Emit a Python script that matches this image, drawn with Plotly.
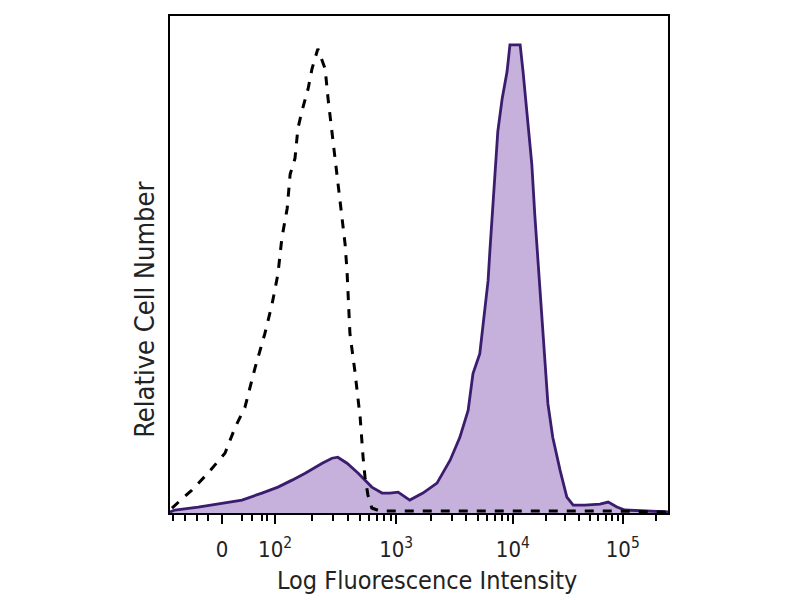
import plotly.graph_objects as go

# 채널 (0-1024, 로지클 표시 축) 과 세포 수
iso_channel = [4, 16, 45, 78, 113, 134, 154, 175, 195, 210, 222, 230, 241, 247, 257, 263,
               271, 284, 292, 304, 319, 325, 333, 343, 350, 360, 364, 366, 370, 380, 391,
               397, 401, 407, 415, 432, 500, 700, 900, 1024]
iso_count = [5, 10, 23, 40, 60, 86, 106, 146, 180, 210, 240, 276, 306, 340, 356, 386,
             403, 426, 446, 466, 446, 416, 383, 343, 310, 270, 243, 223, 180, 143, 96,
             56, 36, 18, 5, 2, 2, 2, 2, 1]

stain_channel = [0, 10, 58, 107, 148, 189, 222, 251, 278, 313, 333, 345, 364, 387, 415,
                 436, 452, 469, 493, 520, 549, 576, 596, 613, 623, 637, 644, 654, 658,
                 662, 668, 674, 683, 693, 699, 720, 726, 734, 744, 750, 757, 765, 771,
                 777, 787, 802, 816, 829, 853, 884, 901, 919, 935, 977, 1024]
stain_count = [1, 3, 6, 10, 13, 20, 26, 33, 40, 50, 55, 56, 50, 40, 26,
               20, 20, 21, 13, 20, 30, 53, 76, 103, 140, 160, 193, 233, 265,
               296, 343, 383, 416, 443, 470, 470, 443, 400, 350, 300, 250, 193, 150,
               110, 76, 43, 16, 8, 8, 9, 11, 6, 3, 2, 1]

# 축 눈금
tick_pos = [107, 216, 465, 705, 931]
tick_text = ["0", "10<sup>2</sup>", "10<sup>3</sup>", "10<sup>4</sup>", "10<sup>5</sup>"]
minor_pos = [6, 31, 56, 78, 148, 169, 189, 199,
             291, 335, 366, 390, 410, 426, 441, 454,
             537, 580, 609, 633, 652, 668, 682, 694,
             773, 813, 841, 863, 881, 896, 909, 921, 999]

fig = go.Figure()

# 염색 샘플 (채워진 히스토그램)
fig.add_trace(go.Scatter(
    x=stain_channel, y=stain_count,
    mode="lines", fill="tozeroy",
    fillcolor="#c5b1db",
    line=dict(color="#3b1d6e", width=2.8),
    hoverinfo="skip"
))

# 아이소타입 대조군 (점선)
fig.add_trace(go.Scatter(
    x=iso_channel, y=iso_count,
    mode="lines",
    line=dict(color="black", width=3, dash="dash"),
    hoverinfo="skip"
))

# 축 제목 (원본처럼 약간 치우친 위치)
fig.add_annotation(text="Log Fluorescence Intensity", xref="paper", yref="paper",
                   x=0.516, y=-0.136, xanchor="center", yanchor="middle",
                   showarrow=False, font=dict(size=25))
fig.add_annotation(text="Relative Cell Number", xref="paper", yref="paper",
                   x=-0.05, y=0.409, xanchor="center", yanchor="middle",
                   textangle=-90, showarrow=False, font=dict(size=27))

# 페이지 body 여백(8px)을 감안한 여백
fig.update_layout(
    width=800, height=600,
    plot_bgcolor="white", paper_bgcolor="white",
    font=dict(family="DejaVu Sans Condensed", size=22, color="#222222"),
    margin=dict(l=162, r=140, t=6, b=95),
    showlegend=False,
    xaxis=dict(
        range=[0, 1024],
        showgrid=False, zeroline=False,
        showline=True, mirror=True, linecolor="black", linewidth=2,
        tickmode="array", tickvals=tick_pos, ticktext=tick_text,
        ticks="outside", ticklen=9, tickwidth=2, tickcolor="black",
        ticklabelstandoff=7,
        tickfont=dict(size=22),
        minor=dict(tickmode="array", tickvals=minor_pos, ticks="outside",
                   ticklen=6, tickwidth=1.5, tickcolor="black"),
    ),
    yaxis=dict(
        range=[0, 499],
        showgrid=False, zeroline=False,
        showline=True, mirror=True, linecolor="black", linewidth=2,
        showticklabels=False, ticks="",
    ),
)

fig.write_html("out.html")
